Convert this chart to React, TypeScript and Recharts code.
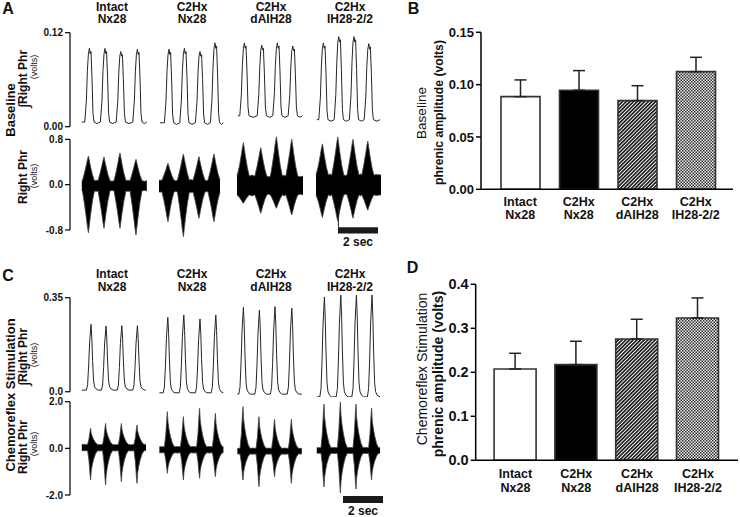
import React from 'react';
import {
  ComposedChart, LineChart, Line, Area, XAxis, YAxis, BarChart, Bar, Cell, ErrorBar,
  ReferenceLine, ReferenceArea,
} from 'recharts';

// time axis of the traces, seconds (about 20 px per second in the figure)
const T_MAX = 15.8;

// ---------- Panel A, baseline: integrated right phrenic (volts), [t, v] ----------
const aIntIntact: number[][] = [
  [0.59, 0.006],
  [0.74, 0.006], [0.82, 0.034], [0.87, 0.072], [0.92, 0.093], [0.97, 0.1], [1.01, 0.093], [1.05, 0.096], [1.1, 0.062], [1.15, 0.017], [1.2, 0.006],
  [1.35, 0.004],
  [1.52, 0.006], [1.6, 0.034], [1.65, 0.072], [1.7, 0.093], [1.75, 0.1], [1.79, 0.093], [1.83, 0.096], [1.88, 0.062], [1.93, 0.017], [1.98, 0.006],
  [2.13, 0.004],
  [2.31, 0.006], [2.39, 0.033], [2.44, 0.069], [2.49, 0.09], [2.54, 0.096], [2.58, 0.09], [2.62, 0.092], [2.67, 0.06], [2.72, 0.017], [2.77, 0.006],
  [2.95, 0.004],
  [3.14, 0.006], [3.22, 0.034], [3.27, 0.071], [3.32, 0.092], [3.37, 0.099], [3.41, 0.092], [3.45, 0.095], [3.5, 0.062], [3.55, 0.017], [3.6, 0.006],
  [3.72, 0.004], [3.84, 0.006],
];
const aIntNx: number[][] = [
  [4.5, 0.005],
  [4.72, 0.005], [4.8, 0.033], [4.85, 0.071], [4.9, 0.092], [4.95, 0.099], [4.99, 0.092], [5.03, 0.095], [5.08, 0.061], [5.13, 0.016], [5.18, 0.005],
  [5.33, 0.003],
  [5.49, 0.005], [5.57, 0.034], [5.62, 0.072], [5.67, 0.093], [5.72, 0.1], [5.76, 0.093], [5.8, 0.096], [5.85, 0.062], [5.9, 0.016], [5.95, 0.005],
  [6.1, 0.003],
  [6.27, 0.005], [6.35, 0.032], [6.4, 0.069], [6.45, 0.09], [6.5, 0.096], [6.54, 0.09], [6.58, 0.092], [6.63, 0.06], [6.68, 0.016], [6.73, 0.005],
  [6.87, 0.003],
  [7.02, 0.005], [7.1, 0.036], [7.15, 0.076], [7.2, 0.1], [7.25, 0.107], [7.29, 0.1], [7.33, 0.103], [7.38, 0.066], [7.43, 0.017], [7.48, 0.005],
  [7.58, 0.003], [7.67, 0.005],
];
const aIntDaih: number[][] = [
  [8.39, 0.014],
  [8.49, 0.014], [8.57, 0.042], [8.62, 0.079], [8.67, 0.1], [8.72, 0.107], [8.76, 0.1], [8.8, 0.103], [8.85, 0.07], [8.9, 0.025], [8.95, 0.014],
  [9.15, 0.012],
  [9.36, 0.014], [9.44, 0.041], [9.49, 0.077], [9.54, 0.098], [9.59, 0.104], [9.63, 0.098], [9.67, 0.1], [9.72, 0.068], [9.77, 0.025], [9.82, 0.014],
  [9.98, 0.012],
  [10.14, 0.014], [10.22, 0.042], [10.27, 0.079], [10.32, 0.1], [10.37, 0.107], [10.41, 0.1], [10.45, 0.103], [10.5, 0.07], [10.55, 0.025], [10.6, 0.014],
  [10.75, 0.012],
  [10.91, 0.014], [10.99, 0.041], [11.04, 0.076], [11.09, 0.097], [11.14, 0.103], [11.18, 0.097], [11.22, 0.099], [11.27, 0.067], [11.32, 0.025], [11.37, 0.014],
  [11.5, 0.012], [11.62, 0.014],
];
const aIntIh: number[][] = [
  [12.34, 0.009],
  [12.44, 0.009], [12.52, 0.038], [12.57, 0.078], [12.62, 0.1], [12.67, 0.107], [12.71, 0.1], [12.75, 0.103], [12.8, 0.068], [12.85, 0.021], [12.9, 0.009],
  [13.05, 0.007],
  [13.21, 0.009], [13.29, 0.041], [13.34, 0.083], [13.39, 0.108], [13.44, 0.115], [13.48, 0.108], [13.52, 0.111], [13.57, 0.073], [13.62, 0.022], [13.67, 0.009],
  [13.82, 0.007],
  [13.97, 0.009], [14.05, 0.041], [14.1, 0.083], [14.15, 0.108], [14.2, 0.115], [14.24, 0.108], [14.28, 0.111], [14.33, 0.073], [14.38, 0.022], [14.43, 0.009],
  [14.57, 0.007],
  [14.71, 0.009], [14.79, 0.038], [14.84, 0.077], [14.89, 0.099], [14.94, 0.106], [14.98, 0.099], [15.02, 0.102], [15.07, 0.067], [15.12, 0.021], [15.17, 0.009],
  [15.35, 0.007], [15.5, 0.009],
];

// ---------- Panel A, baseline: raw right phrenic envelope, [t, low, high] ----------
const aRawIntact: number[][] = [
  [0.59, -0.11, 0.07],
  [0.62, -0.11, 0.07], [0.72, -0.332, 0.2], [0.82, -0.591, 0.353], [0.87, -0.739, 0.44], [0.92, -0.85, 0.505], [0.97, -0.702, 0.418], [1.02, -0.554, 0.331], [1.12, -0.295, 0.179], [1.22, -0.11, 0.07],
  [1.31, -0.12, 0.08],
  [1.4, -0.11, 0.07], [1.5, -0.308, 0.196], [1.6, -0.539, 0.343], [1.65, -0.671, 0.427], [1.7, -0.77, 0.49], [1.75, -0.638, 0.406], [1.8, -0.506, 0.322], [1.9, -0.275, 0.175], [2.0, -0.11, 0.07],
  [2.1, -0.1, 0.06],
  [2.2, -0.11, 0.07], [2.3, -0.308, 0.217], [2.4, -0.539, 0.389], [2.45, -0.671, 0.487], [2.5, -0.77, 0.56], [2.55, -0.638, 0.462], [2.6, -0.506, 0.364], [2.7, -0.275, 0.193], [2.8, -0.11, 0.07],
  [2.9, -0.12, 0.08],
  [3.0, -0.11, 0.07], [3.1, -0.344, 0.183], [3.2, -0.617, 0.315], [3.25, -0.773, 0.39], [3.3, -0.89, 0.447], [3.35, -0.734, 0.372], [3.4, -0.578, 0.296], [3.5, -0.305, 0.164], [3.6, -0.11, 0.07],
  [3.72, -0.1, 0.06], [3.84, -0.11, 0.07],
];
const aRawNx: number[][] = [
  [4.45, -0.13, 0.08],
  [4.6, -0.13, 0.08], [4.7, -0.287, 0.169], [4.8, -0.471, 0.272], [4.85, -0.575, 0.332], [4.9, -0.654, 0.376], [4.95, -0.549, 0.317], [5.0, -0.444, 0.258], [5.1, -0.261, 0.154], [5.2, -0.13, 0.08],
  [5.29, -0.12, 0.07],
  [5.37, -0.13, 0.08], [5.47, -0.366, 0.218], [5.57, -0.642, 0.379], [5.62, -0.8, 0.471], [5.67, -0.918, 0.54], [5.72, -0.76, 0.448], [5.77, -0.603, 0.356], [5.87, -0.327, 0.195], [5.97, -0.13, 0.08],
  [6.06, -0.14, 0.09],
  [6.15, -0.13, 0.08], [6.25, -0.269, 0.204], [6.35, -0.432, 0.349], [6.4, -0.524, 0.432], [6.45, -0.594, 0.494], [6.5, -0.501, 0.411], [6.55, -0.408, 0.328], [6.65, -0.246, 0.184], [6.75, -0.13, 0.08],
  [6.83, -0.12, 0.07],
  [6.9, -0.13, 0.08], [7.0, -0.287, 0.218], [7.1, -0.471, 0.379], [7.15, -0.575, 0.471], [7.2, -0.654, 0.54], [7.25, -0.549, 0.448], [7.3, -0.444, 0.356], [7.4, -0.261, 0.195], [7.5, -0.13, 0.08],
];
const aRawDaih: number[][] = [
  [8.35, -0.18, 0.15],
  [8.47, -0.225, 0.327], [8.57, -0.277, 0.534], [8.62, -0.307, 0.652], [8.67, -0.329, 0.74], [8.72, -0.299, 0.622], [8.77, -0.269, 0.504], [8.87, -0.217, 0.298], [8.97, -0.18, 0.15],
  [9.1, -0.2, 0.17],
  [9.24, -0.18, 0.15], [9.34, -0.278, 0.301], [9.44, -0.391, 0.476], [9.49, -0.456, 0.577], [9.54, -0.505, 0.652], [9.59, -0.44, 0.552], [9.64, -0.375, 0.451], [9.74, -0.261, 0.276], [9.84, -0.18, 0.15],
  [9.93, -0.17, 0.14],
  [10.02, -0.18, 0.15], [10.12, -0.251, 0.359], [10.22, -0.334, 0.602], [10.27, -0.381, 0.742], [10.32, -0.417, 0.846], [10.37, -0.37, 0.707], [10.42, -0.322, 0.568], [10.52, -0.239, 0.324], [10.62, -0.18, 0.15],
  [10.7, -0.2, 0.17],
  [10.79, -0.18, 0.15], [10.89, -0.287, 0.345], [10.99, -0.411, 0.573], [11.04, -0.482, 0.703], [11.09, -0.535, 0.8], [11.14, -0.464, 0.67], [11.19, -0.393, 0.54], [11.29, -0.269, 0.313], [11.39, -0.18, 0.15],
  [11.52, -0.17, 0.14], [11.65, -0.18, 0.15],
];
const aRawIh: number[][] = [
  [12.3, -0.18, 0.17], [12.42, -0.3, 0.335], [12.52, -0.44, 0.528], [12.57, -0.52, 0.638], [12.62, -0.58, 0.72], [12.67, -0.5, 0.61], [12.72, -0.42, 0.5], [12.82, -0.28, 0.308], [12.92, -0.18, 0.17],
  [13.0, -0.2, 0.19],
  [13.09, -0.18, 0.17], [13.19, -0.318, 0.371], [13.29, -0.479, 0.606], [13.34, -0.571, 0.74], [13.39, -0.64, 0.84], [13.44, -0.548, 0.706], [13.49, -0.456, 0.572], [13.59, -0.295, 0.338], [13.69, -0.18, 0.17],
  [13.77, -0.17, 0.16],
  [13.85, -0.18, 0.17], [13.95, -0.303, 0.359], [14.05, -0.447, 0.58], [14.1, -0.529, 0.706], [14.15, -0.59, 0.8], [14.2, -0.508, 0.674], [14.25, -0.426, 0.548], [14.35, -0.283, 0.328], [14.45, -0.18, 0.17],
  [14.52, -0.2, 0.19],
  [14.59, -0.18, 0.17], [14.69, -0.261, 0.35], [14.79, -0.356, 0.56], [14.84, -0.41, 0.68], [14.89, -0.45, 0.77], [14.94, -0.396, 0.65], [14.99, -0.342, 0.53], [15.09, -0.248, 0.32], [15.19, -0.18, 0.17],
  [15.3, -0.19, 0.18], [15.55, -0.18, 0.17],
];

// ---------- Panel C, chemoreflex: integrated right phrenic (volts), [t, v] ----------
const cIntIntact: number[][] = [
  [0.59, 0.006],
  [0.82, 0.006], [0.88, 0.026], [0.93, 0.092], [0.98, 0.182], [1.05, 0.251], [1.09, 0.202], [1.13, 0.116], [1.18, 0.04], [1.23, 0.018], [1.31, 0.01], [1.41, 0.006],
  [1.57, 0.006], [1.63, 0.025], [1.68, 0.09], [1.73, 0.178], [1.8, 0.245], [1.84, 0.197], [1.88, 0.114], [1.93, 0.039], [1.98, 0.018], [2.06, 0.01], [2.16, 0.006],
  [2.36, 0.006], [2.42, 0.025], [2.47, 0.09], [2.52, 0.179], [2.59, 0.246], [2.63, 0.198], [2.67, 0.114], [2.72, 0.04], [2.77, 0.018], [2.85, 0.01], [2.95, 0.006],
  [3.14, 0.006], [3.2, 0.025], [3.25, 0.09], [3.3, 0.179], [3.37, 0.246], [3.41, 0.198], [3.45, 0.114], [3.5, 0.04], [3.55, 0.018], [3.63, 0.01], [3.73, 0.006],
  [3.8, 0.006],
];
const cIntNx: number[][] = [
  [4.47, -0.004],
  [4.66, -0.004], [4.72, 0.018], [4.77, 0.094], [4.82, 0.198], [4.89, 0.277], [4.93, 0.221], [4.97, 0.122], [5.02, 0.035], [5.07, 0.01], [5.15, 0.0], [5.25, -0.004],
  [5.46, -0.004], [5.52, 0.019], [5.57, 0.098], [5.62, 0.205], [5.69, 0.286], [5.73, 0.228], [5.77, 0.127], [5.82, 0.037], [5.87, 0.011], [5.95, 0.0], [6.05, -0.004],
  [6.27, -0.004], [6.33, 0.018], [6.38, 0.092], [6.43, 0.194], [6.5, 0.271], [6.54, 0.216], [6.58, 0.12], [6.63, 0.035], [6.68, 0.01], [6.76, 0.0], [6.86, -0.004],
  [7.06, -0.004], [7.12, 0.019], [7.17, 0.098], [7.22, 0.205], [7.29, 0.286], [7.33, 0.228], [7.37, 0.127], [7.42, 0.037], [7.47, 0.011], [7.55, 0.0], [7.67, -0.004],
];
const cIntDaih: number[][] = [
  [8.37, -0.009],
  [8.44, -0.009], [8.5, 0.017], [8.55, 0.104], [8.6, 0.224], [8.67, 0.314], [8.71, 0.249], [8.75, 0.136], [8.8, 0.036], [8.85, 0.007], [8.93, -0.004], [9.03, -0.009],
  [9.24, -0.009], [9.3, 0.016], [9.35, 0.101], [9.4, 0.216], [9.47, 0.304], [9.51, 0.241], [9.55, 0.132], [9.6, 0.035], [9.65, 0.007], [9.73, -0.004], [9.83, -0.009],
  [10.02, -0.009], [10.08, 0.017], [10.13, 0.105], [10.18, 0.226], [10.25, 0.317], [10.29, 0.252], [10.33, 0.138], [10.38, 0.037], [10.43, 0.007], [10.51, -0.004], [10.61, -0.009],
  [10.86, -0.009], [10.92, 0.017], [10.97, 0.103], [11.02, 0.221], [11.09, 0.311], [11.13, 0.247], [11.17, 0.135], [11.22, 0.036], [11.27, 0.007], [11.35, -0.004], [11.45, -0.009],
  [11.59, -0.009],
];
const cIntIh: number[][] = [
  [12.34, -0.019],
  [12.49, -0.019], [12.55, 0.011], [12.6, 0.111], [12.65, 0.248], [12.72, 0.352], [12.76, 0.278], [12.8, 0.148], [12.85, 0.033], [12.9, 0.0], [12.98, -0.013], [13.08, -0.019],
  [13.31, -0.019], [13.37, 0.011], [13.42, 0.114], [13.47, 0.254], [13.54, 0.36], [13.58, 0.284], [13.62, 0.152], [13.67, 0.034], [13.72, 0.0], [13.8, -0.013], [13.9, -0.019],
  [14.09, -0.019], [14.15, 0.011], [14.2, 0.114], [14.25, 0.254], [14.32, 0.36], [14.36, 0.284], [14.4, 0.152], [14.45, 0.034], [14.5, 0.0], [14.58, -0.013], [14.68, -0.019],
  [14.87, -0.019], [14.93, 0.011], [14.98, 0.114], [15.03, 0.254], [15.1, 0.36], [15.14, 0.284], [15.18, 0.152], [15.23, 0.034], [15.28, 0.0], [15.36, -0.013], [15.5, -0.019],
];

// ---------- Panel C, chemoreflex: raw right phrenic envelope, [t, low, high] ----------
const cRawIntact: number[][] = [
  [0.59, -0.1, 0.17],
  [0.88, -0.1, 0.17], [0.95, -0.54, 0.412], [1.0, -1.106, 0.722], [1.03, -1.357, 0.86], [1.06, -0.98, 0.653], [1.11, -0.729, 0.515], [1.18, -0.477, 0.377], [1.28, -0.226, 0.239], [1.38, -0.1, 0.17],
  [1.5, -0.11, 0.15],
  [1.63, -0.1, 0.17], [1.7, -0.615, 0.485], [1.75, -1.277, 0.89], [1.78, -1.571, 1.07], [1.81, -1.13, 0.8], [1.86, -0.836, 0.62], [1.93, -0.541, 0.44], [2.03, -0.247, 0.26], [2.13, -0.1, 0.17],
  [2.27, -0.11, 0.15],
  [2.42, -0.1, 0.17], [2.49, -0.566, 0.485], [2.54, -1.164, 0.89], [2.57, -1.43, 1.07], [2.6, -1.031, 0.8], [2.65, -0.765, 0.62], [2.72, -0.499, 0.44], [2.82, -0.233, 0.26], [2.92, -0.1, 0.17],
  [3.05, -0.11, 0.15],
  [3.2, -0.1, 0.17], [3.27, -0.59, 0.461], [3.32, -1.22, 0.834], [3.35, -1.5, 1.0], [3.38, -1.08, 0.751], [3.43, -0.8, 0.585], [3.5, -0.52, 0.419], [3.6, -0.24, 0.253], [3.7, -0.1, 0.17],
  [3.8, -0.1, 0.17],
];
const cRawNx: number[][] = [
  [4.47, -0.19, 0.07],
  [4.72, -0.19, 0.07], [4.79, -0.498, 0.595], [4.84, -0.894, 1.27], [4.87, -1.07, 1.57], [4.9, -0.806, 1.12], [4.95, -0.63, 0.82], [5.02, -0.454, 0.52], [5.12, -0.278, 0.22], [5.22, -0.19, 0.07],
  [5.37, -0.2, 0.08],
  [5.52, -0.19, 0.07], [5.59, -0.598, 0.52], [5.64, -1.124, 1.1], [5.67, -1.357, 1.357], [5.7, -1.007, 0.971], [5.75, -0.774, 0.714], [5.82, -0.54, 0.456], [5.92, -0.307, 0.199], [6.02, -0.19, 0.07],
  [6.17, -0.2, 0.08],
  [6.33, -0.19, 0.07], [6.4, -0.573, 0.646], [6.45, -1.065, 1.388], [6.48, -1.284, 1.717], [6.51, -0.956, 1.223], [6.56, -0.737, 0.894], [6.63, -0.518, 0.564], [6.73, -0.299, 0.235], [6.83, -0.19, 0.07],
  [6.97, -0.2, 0.08],
  [7.12, -0.19, 0.07], [7.19, -0.549, 0.571], [7.24, -1.01, 1.214], [7.27, -1.215, 1.5], [7.3, -0.908, 1.071], [7.35, -0.703, 0.785], [7.42, -0.498, 0.499], [7.52, -0.293, 0.213], [7.62, -0.19, 0.07],
  [7.67, -0.19, 0.07],
];
const cRawDaih: number[][] = [
  [8.37, -0.24, 0.0],
  [8.5, -0.24, 0.0], [8.57, -0.631, 0.625], [8.62, -1.134, 1.429], [8.65, -1.357, 1.786], [8.68, -1.022, 1.25], [8.73, -0.799, 0.893], [8.8, -0.575, 0.536], [8.9, -0.352, 0.179], [9.0, -0.24, 0.0],
  [9.15, -0.25, 0.01],
  [9.3, -0.24, 0.0], [9.37, -0.731, 0.475], [9.42, -1.363, 1.086], [9.45, -1.644, 1.357], [9.48, -1.223, 0.95], [9.53, -0.942, 0.679], [9.6, -0.661, 0.407], [9.7, -0.38, 0.136], [9.8, -0.24, 0.0],
  [9.93, -0.25, 0.01],
  [10.08, -0.24, 0.0], [10.15, -0.581, 0.436], [10.2, -1.02, 0.996], [10.23, -1.215, 1.245], [10.26, -0.923, 0.872], [10.31, -0.728, 0.623], [10.38, -0.533, 0.374], [10.48, -0.338, 0.125], [10.58, -0.24, 0.0],
  [10.75, -0.25, 0.01],
  [10.92, -0.24, 0.0], [10.99, -0.681, 0.436], [11.04, -1.248, 0.996], [11.07, -1.5, 1.245], [11.1, -1.122, 0.872], [11.15, -0.87, 0.623], [11.22, -0.618, 0.374], [11.32, -0.366, 0.125], [11.42, -0.24, 0.0],
  [11.59, -0.24, 0.0],
];
const cRawIh: number[][] = [
  [12.34, -0.21, 0.03],
  [12.55, -0.21, 0.03], [12.62, -0.716, 0.685], [12.67, -1.368, 1.526], [12.7, -1.657, 1.9], [12.73, -1.223, 1.339], [12.78, -0.934, 0.965], [12.85, -0.644, 0.591], [12.95, -0.355, 0.217], [13.05, -0.21, 0.03],
  [13.2, -0.22, 0.04],
  [13.37, -0.21, 0.03], [13.44, -0.806, 0.72], [13.49, -1.573, 1.606], [13.52, -1.914, 2.0], [13.55, -1.403, 1.409], [13.6, -1.062, 1.015], [13.67, -0.721, 0.621], [13.77, -0.38, 0.227], [13.87, -0.21, 0.03],
  [14.0, -0.22, 0.04],
  [14.15, -0.21, 0.03], [14.22, -0.747, 0.685], [14.27, -1.436, 1.526], [14.3, -1.743, 1.9], [14.33, -1.283, 1.339], [14.38, -0.977, 0.965], [14.45, -0.67, 0.591], [14.55, -0.363, 0.217], [14.65, -0.21, 0.03],
  [14.78, -0.22, 0.04],
  [14.93, -0.21, 0.03], [15.0, -0.611, 0.625], [15.05, -1.128, 1.39], [15.08, -1.357, 1.73], [15.11, -1.013, 1.22], [15.16, -0.784, 0.88], [15.23, -0.554, 0.54], [15.33, -0.325, 0.2], [15.43, -0.21, 0.03],
  [15.5, -0.21, 0.03],
];

// scale bars (seconds) and trace tick labels
const scaleBarA = { start: 13.4, len: 2 };
const scaleBarC = { start: 13.65, len: 2 };
const aIntTicks = [0, 0.12];
const aIntTickLabels = ['0.00', '0.12'];
const aRawTicks = [-0.8, 0, 0.8];
const aRawTickLabels = ['-0.8', '0.0', '0.8'];
const cIntTicks = [0, 0.35];
const cIntTickLabels = ['0.0', '0.35'];
const cRawTicks = [-2, 0, 2];
const cRawTickLabels = ['-2.0', '0.0', '2.0'];

// ---------- Panels B and D: group means ± SEM (volts) ----------
const groups = ['Intact Nx28', 'C2Hx Nx28', 'C2Hx dAIH28', 'C2Hx IH28-2/2'];
const baselineMean = [0.0885, 0.0946, 0.0847, 0.1124];
const baselineSem = [0.016, 0.0188, 0.0143, 0.0137];
const chemoMean = [0.2076, 0.2174, 0.2758, 0.3235];
const chemoSem = [0.0356, 0.0531, 0.0447, 0.0455];
const baselineTicks = [0, 0.05, 0.1, 0.15];
const chemoTicks = [0, 0.1, 0.2, 0.3, 0.4];

const FONT = '"Liberation Sans", Arial, Helvetica, sans-serif';
const INK = '#111';
const TRACE = '#262626';

const toLine = (a: number[][]) => a.map(([t, v]) => ({ t, v }));
const toBand = (a: number[][]) => a.map(([t, lo, hi]) => ({ t, r: [lo, hi] }));

const tickStyle = { fontSize: 10, fontWeight: 700, fill: INK };

const TraceY = ({ domain, ticks, labels, axisLine }: any) => (
  <YAxis
    type="number"
    domain={domain}
    ticks={ticks}
    interval={0}
    allowDataOverflow
    width={70}
    tickSize={5}
    tickMargin={2}
    tick={tickStyle}
    tickLine={{ stroke: '#000', strokeWidth: 1.2 }}
    axisLine={axisLine ? { stroke: '#000', strokeWidth: 1.2 } : false}
    tickFormatter={(v: number, i: number) => labels[i]}
  />
);

const traceX = <XAxis type="number" dataKey="t" domain={[0, T_MAX]} allowDataOverflow hide />;

const IntTrace = ({ top, height, margin, series, domain, ticks, labels, axisLine, axisSeg }: any) => (
  <div style={{ position: 'absolute', left: 0, top }}>
    <LineChart width={390} height={height} margin={margin}>
      {traceX}
      {TraceY({ domain, ticks, labels, axisLine })}
      {axisSeg && (
        <ReferenceLine segment={[{ x: 0, y: axisSeg[0] }, { x: 0, y: axisSeg[1] }]} stroke="#000" strokeWidth={1.2} ifOverflow="visible" />
      )}
      {series.map((s: number[][], i: number) => (
        <Line key={i} data={toLine(s)} dataKey="v" type="linear" stroke={TRACE} strokeWidth={1} dot={false} activeDot={false} isAnimationActive={false} />
      ))}
    </LineChart>
  </div>
);

const RawTrace = ({ top, height, margin, series, domain, ticks, labels, axisLine, axisSeg, bar, barY, marker }: any) => (
  <div style={{ position: 'absolute', left: 0, top }}>
    <ComposedChart width={390} height={height} margin={margin}>
      {traceX}
      {TraceY({ domain, ticks, labels, axisLine })}
      {axisSeg && (
        <ReferenceLine segment={[{ x: 0, y: axisSeg[0] }, { x: 0, y: axisSeg[1] }]} stroke="#000" strokeWidth={1.2} ifOverflow="visible" />
      )}
      {series.map((s: number[][], i: number) => (
        <Area key={i} data={toBand(s)} dataKey="r" type="linear" stroke="#444" strokeWidth={0.8} fill="#000" fillOpacity={1} dot={false} activeDot={false} isAnimationActive={false} />
      ))}
      {marker && (
        <ReferenceLine segment={[{ x: marker[0], y: marker[1] }, { x: marker[0], y: marker[2] }]} stroke="#222" strokeWidth={1} ifOverflow="visible" />
      )}
      <ReferenceArea
        x1={bar.start}
        x2={bar.start + bar.len}
        y1={barY[0]}
        y2={barY[1]}
        fill="#1a1a1a"
        fillOpacity={1}
        stroke="none"
        ifOverflow="visible"
        label={{ value: `${bar.len} sec`, position: 'bottom', offset: 4, fontSize: 12, fontWeight: 700, fill: INK }}
      />
    </ComposedChart>
  </div>
);

const CatTick = (props: any) => {
  const { x, y, payload, fs, d1, d2 } = props;
  const [l1, l2] = String(payload.value).split(' ');
  return (
    <text x={x} y={y} textAnchor="middle" fontSize={fs} fontWeight={700} fill={INK}>
      <tspan x={x} dy={d1}>{l1}</tspan>
      <tspan x={x} dy={d2}>{l2}</tspan>
    </text>
  );
};

const AmpBars = ({ id, top, height, margin, yWidth, means, sems, domain, ticks, digits, tickFs, catFs, pad, barSize, d1, d2 }: any) => {
  const data = groups.map((g, i) => ({ name: g, mean: means[i], err: [0, sems[i]] }));
  const fills = ['#fff', '#000', `url(#hatch${id})`, `url(#check${id})`];
  return (
    <div style={{ position: 'absolute', left: 370, top }}>
      <BarChart width={370} height={height} data={data} margin={margin}>
        <defs>
          <pattern id={`hatch${id}`} width={2.6} height={2.6} patternUnits="userSpaceOnUse" patternTransform="rotate(45)">
            <rect width={2.6} height={2.6} fill="#fff" />
            <line x1={0.8} y1={0} x2={0.8} y2={2.6} stroke="#000" strokeWidth={1.5} />
          </pattern>
          <pattern id={`check${id}`} width={3} height={3} patternUnits="userSpaceOnUse">
            <rect width={3} height={3} fill="#f2f2f2" />
            <rect width={1.5} height={1.5} fill="#2a2a2a" />
            <rect x={1.5} y={1.5} width={1.5} height={1.5} fill="#2a2a2a" />
          </pattern>
        </defs>
        <XAxis
          dataKey="name"
          padding={pad}
          height={40}
          tickLine={false}
          tickSize={0}
          tickMargin={0}
          interval={0}
          axisLine={{ stroke: '#000', strokeWidth: 1.5 }}
          tick={<CatTick fs={catFs} d1={d1} d2={d2} />}
        />
        <YAxis
          type="number"
          domain={domain}
          ticks={ticks}
          interval={0}
          width={yWidth}
          tickSize={5}
          tickMargin={2}
          tick={{ fontSize: tickFs, fontWeight: 700, fill: INK }}
          tickLine={{ stroke: '#000', strokeWidth: 1.5 }}
          axisLine={{ stroke: '#000', strokeWidth: 1.5 }}
          tickFormatter={(v: number) => v.toFixed(digits)}
        />
        <Bar dataKey="mean" barSize={barSize} stroke="#333" strokeWidth={1.6} isAnimationActive={false}>
          {data.map((d, i) => (
            <Cell key={d.name} fill={fills[i]} />
          ))}
          <ErrorBar dataKey="err" width={6} stroke="#222" strokeWidth={1.5} direction="y" />
        </Bar>
      </BarChart>
    </div>
  );
};

const Header = ({ y1, gap }: { y1: number; gap: number }) => (
  <>
    {groups.map((g, i) => {
      const [l1, l2] = g.split(' ');
      const cx = [112, 192, 271, 350][i];
      return (
        <text key={g} x={cx} y={y1} textAnchor="middle" fontSize={12} fontWeight={700} fill={INK}>
          <tspan x={cx}>{l1}</tspan>
          <tspan x={cx} dy={gap}>{l2}</tspan>
        </text>
      );
    })}
  </>
);

const VText = ({ x, y, size, bold, children }: any) => (
  <text transform={`translate(${x},${y}) rotate(-90)`} textAnchor="middle" dominantBaseline="central" fontSize={size} fontWeight={bold ? 700 : 400} fill={INK}>
    {children}
  </text>
);

const IntLabel = ({ x, y }: any) => (
  <text transform={`translate(${x},${y}) rotate(-90)`} textAnchor="middle" dominantBaseline="central" fontSize={12} fontWeight={700} fill={INK}>
    <tspan fontSize={15} fontWeight={400}>∫</tspan>
    <tspan>Right Phr</tspan>
  </text>
);

export default function App() {
  return (
    <div style={{ position: 'absolute', left: 0, top: 0, width: 740, height: 517, background: '#fff', fontFamily: FONT, overflow: 'hidden' }}>
      {/* A: baseline traces */}
      <IntTrace
        top={0}
        height={137}
        margin={{ top: 32.7, right: 4, bottom: 10.3, left: 0 }}
        series={[aIntIntact, aIntNx, aIntDaih, aIntIh]}
        domain={[0, 0.12]}
        ticks={aIntTicks}
        labels={aIntTickLabels}
        axisLine
      />
      <RawTrace
        top={128}
        height={127}
        margin={{ top: 8.5, right: 4, bottom: 16.5, left: 0 }}
        series={[aRawIntact, aRawNx, aRawDaih, aRawIh]}
        domain={[-0.95, 0.85]}
        ticks={aRawTicks}
        labels={aRawTickLabels}
        axisSeg={[-0.8, 0.8]}
        bar={scaleBarA}
        barY={[-0.86, -0.75]}
        marker={[13.42, -0.4, -0.75]}
      />
      {/* C: chemoreflex traces */}
      <IntTrace
        top={260}
        height={147}
        margin={{ top: 33.7, right: 4, bottom: 9.9, left: 0 }}
        series={[cIntIntact, cIntNx, cIntDaih, cIntIh]}
        domain={[-0.02, 0.365]}
        ticks={cIntTicks}
        labels={cIntTickLabels}
        axisSeg={[0, 0.35]}
      />
      <RawTrace
        top={392}
        height={125}
        margin={{ top: 9.7, right: 4, bottom: 22, left: 0 }}
        series={[cRawIntact, cRawNx, cRawDaih, cRawIh]}
        domain={[-2, 2]}
        ticks={cRawTicks}
        labels={cRawTickLabels}
        axisLine
        bar={scaleBarC}
        barY={[-2.34, -2.04]}
      />
      {/* B and D: amplitude bars */}
      <AmpBars
        id="B"
        top={0}
        height={260}
        margin={{ top: 32.3, right: 7, bottom: 30.7, left: 0 }}
        yWidth={111}
        means={baselineMean}
        sems={baselineSem}
        domain={[0, 0.15]}
        ticks={baselineTicks}
        digits={2}
        tickFs={13}
        catFs={12.5}
        pad={{ left: 10, right: 8 }}
        barSize={39}
        d1={16.7}
        d2={13.3}
      />
      <AmpBars
        id="D"
        top={260}
        height={257}
        margin={{ top: 24.3, right: 2, bottom: 16.7, left: 0 }}
        yWidth={105.7}
        means={chemoMean}
        sems={chemoSem}
        domain={[0, 0.4]}
        ticks={chemoTicks}
        digits={1}
        tickFs={14.5}
        catFs={12.5}
        pad={{ left: 9.4, right: 9.7 }}
        barSize={42}
        d1={18}
        d2={13.3}
      />
      <svg width={740} height={517} style={{ position: 'absolute', left: 0, top: 0, pointerEvents: 'none' }}>
        <g fontFamily={FONT}>
          <text x={8} y={14} textAnchor="middle" fontSize={16} fontWeight={700} fill={INK}>A</text>
          <text x={413.5} y={14} textAnchor="middle" fontSize={16} fontWeight={700} fill={INK}>B</text>
          <text x={8} y={280.7} textAnchor="middle" fontSize={16} fontWeight={700} fill={INK}>C</text>
          <text x={412.5} y={272.7} textAnchor="middle" fontSize={16} fontWeight={700} fill={INK}>D</text>

          <Header y1={10.8} gap={12.6} />
          <Header y1={278} gap={12.6} />

          <VText x={10} y={110} size={13} bold>Baseline</VText>
          <IntLabel x={23} y={79} />
          <VText x={34} y={67} size={9}>(volts)</VText>
          <VText x={23} y={177} size={12} bold>Right Phr</VText>
          <VText x={34} y={176} size={9}>(volts)</VText>

          <VText x={10} y={395} size={13} bold>Chemoreflex Stimulation</VText>
          <IntLabel x={23} y={357} />
          <VText x={34} y={355} size={9}>(volts)</VText>
          <VText x={23} y={447} size={12} bold>Right Phr</VText>
          <VText x={34} y={444} size={9}>(volts)</VText>

          <VText x={421.7} y={113} size={13.5}>Baseline</VText>
          <VText x={438.5} y={112.5} size={12.2} bold>phrenic amplitude (volts)</VText>
          <VText x={422} y={369} size={14}>Chemoreflex Stimulation</VText>
          <VText x={438.3} y={374} size={14} bold>phrenic amplitude (volts)</VText>
        </g>
      </svg>
    </div>
  );
}
